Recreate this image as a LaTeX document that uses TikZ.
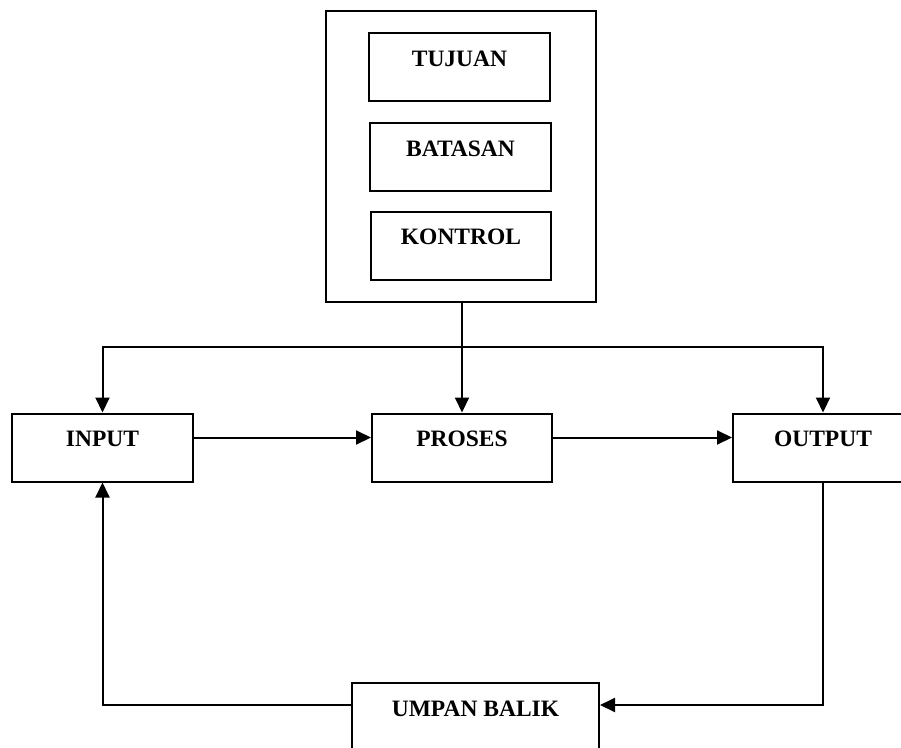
\documentclass[tikz,border=0pt]{standalone}
\usepackage{fontspec}
\setmainfont{Liberation Serif}
\usetikzlibrary{arrows.meta}
\tikzset{
  blockbox/.style={draw, line width=2pt, rectangle, inner sep=0pt,
    minimum height=68pt, text height=16pt, text depth=18pt,
    font=\fontsize{23.5pt}{26pt}\selectfont\bfseries},
  link/.style={line width=2pt},
  arrowlink/.style={line width=2pt, -{Triangle[length=15pt,width=14pt]}}
}
\begin{document}
\begin{tikzpicture}[x=1pt,y=-1pt]
  \useasboundingbox (0,0) rectangle (901,747);
  \clip (0,0) rectangle (901,747);
  \fill[white] (0,0) rectangle (901,747);

  % control group
  \node[draw, line width=2pt, minimum width=270pt, minimum height=291pt, inner sep=0pt] (outer) at (461,156.5) {};
  \node[blockbox, minimum width=181pt] (tujuan) at (459.5,67) {TUJUAN};
  \node[blockbox, minimum width=181pt] (batasan) at (460.5,157) {BATASAN};
  \node[blockbox, minimum width=180pt] (kontrol) at (461,245.5) {KONTROL};

  % main flow
  \node[blockbox, minimum width=181pt] (input) at (102.5,447.5) {INPUT};
  \node[blockbox, minimum width=180pt] (proses) at (462,447.5) {PROSES};
  \node[blockbox, minimum width=180pt] (output) at (823,447.5) {OUTPUT};
  \node[blockbox, minimum width=247pt] (umpan) at (475.5,717) {UMPAN BALIK};

  % distribution bus from the control group
  \coordinate (bus) at (462,347);
  \draw[link] (outer.south -| bus) -- (bus);
  \draw[arrowlink] (bus) -- (proses.north);
  \draw[arrowlink] (bus) -| (input.north);
  \draw[arrowlink] (bus) -| (output.north);

  % forward flow
  \draw[arrowlink] ([yshift=10pt]input.east) -- ([yshift=10pt]proses.west);
  \draw[arrowlink] ([yshift=10pt]proses.east) -- ([yshift=10pt]output.west);

  % feedback loop
  \draw[arrowlink] (output.south) |- ([yshift=12pt]umpan.east);
  \draw[arrowlink] ([yshift=12pt]umpan.west) -| (input.south);
\end{tikzpicture}
\end{document}
